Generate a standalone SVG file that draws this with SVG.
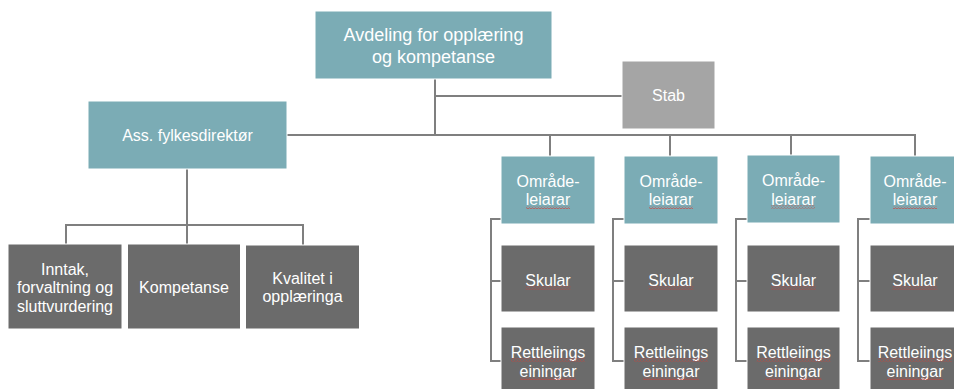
<svg xmlns="http://www.w3.org/2000/svg" width="954" height="389" viewBox="0 0 954 389">
<style>
  .teal{fill:#7BACB5;stroke:#ffffff;stroke-width:1}
  .dark{fill:#6B6B6B;stroke:#ffffff;stroke-width:1}
  .stab{fill:#A5A5A5;stroke:#ffffff;stroke-width:1}
  text{font-family:"Liberation Sans",Arial,sans-serif;font-size:16px;fill:#ffffff;text-anchor:middle}
  .big{font-size:18px}
  .conn{fill:none;stroke:#7F7F7F;stroke-width:2}
  .sq{fill:url(#squig)}
</style>
<defs>
  <pattern id="squig" patternUnits="userSpaceOnUse" width="3" height="3">
    <path d="M0 2.2 L1.5 0.8 L3 2.2" fill="none" stroke="#D0403A" stroke-width="0.8"/>
  </pattern>
</defs>
<rect width="954" height="389" fill="#ffffff"/>
<g id="connectors" class="conn">
  <path d="M435 79 V135"/>
  <path d="M435 96 H622"/>
  <path d="M287 135 H916"/>
  <path d="M550 135 V156"/>
  <path d="M670 135 V156"/>
  <path d="M791 135 V155"/>
  <path d="M915 135 V156"/>
  <path d="M187 169 V225"/>
  <path d="M66 244 V225 H303 V245"/>
  <path d="M187 225 V244"/>
  <path d="M501 219 H491 V361 H501 M491 281 H501"/>
  <path d="M624 219 H613 V361 H624 M613 281 H624"/>
  <path d="M747 219 H736 V361 H747 M736 281 H747"/>
  <path d="M870 219 H858 V361 H870 M858 281 H870"/>
</g>
<g id="avdeling">
  <rect class="teal" x="315" y="11" width="237" height="68"/>
  <text class="big" x="433.5" y="41">Avdeling for opplæring</text>
  <text class="big" x="433.5" y="63">og kompetanse</text>
</g>
<g id="stab">
  <rect class="stab" x="622" y="61" width="93" height="68"/>
  <text x="668.5" y="101">Stab</text>
</g>
<g id="ass">
  <rect class="teal" x="88" y="101" width="199" height="68"/>
  <text x="187.5" y="141">Ass. fylkesdirektør</text>
</g>
<g id="inntak">
  <rect class="dark" x="8" y="244" width="114" height="85"/>
  <text x="65" y="274.5">Inntak,</text>
  <text x="65" y="293">forvaltning og</text>
  <text x="65" y="311.5">sluttvurdering</text>
</g>
<g id="kompetanse">
  <rect class="dark" x="127.5" y="244" width="113" height="85"/>
  <text x="184" y="292.5">Kompetanse</text>
</g>
<g id="kvalitet">
  <rect class="dark" x="245.5" y="245" width="114" height="84"/>
  <text x="302.5" y="283.5">Kvalitet i</text>
  <text x="302.5" y="302">opplæringa</text>
</g>
<g id="omr1">
  <rect class="teal" x="501" y="156" width="94" height="68"/>
  <text x="548" y="186.5">Område-</text>
  <text x="548" y="205">leiarar</text>
  <rect class="sq" x="526" y="206" width="44" height="3"/>
</g>
<g id="omr2">
  <rect class="teal" x="624" y="156" width="94" height="68"/>
  <text x="671" y="186.5">Område-</text>
  <text x="671" y="205">leiarar</text>
  <rect class="sq" x="649" y="206" width="44" height="3"/>
</g>
<g id="omr3">
  <rect class="teal" x="747" y="155" width="93" height="68"/>
  <text x="793.5" y="186">Område-</text>
  <text x="793.5" y="204.5">leiarar</text>
  <rect class="sq" x="771" y="205.5" width="44" height="3"/>
</g>
<g id="omr4">
  <rect class="teal" x="870" y="156" width="94" height="68"/>
  <text x="915" y="186.5">Område-</text>
  <text x="915" y="205">leiarar</text>
  <rect class="sq" x="893" y="206" width="44" height="3"/>
</g>
<g id="skular1">
  <rect class="dark" x="501" y="245" width="94" height="67"/>
  <text x="548" y="285.5">Skular</text>
  <rect class="sq" x="525.5" y="286.5" width="45" height="3"/>
</g>
<g id="skular2">
  <rect class="dark" x="624" y="245" width="94" height="67"/>
  <text x="671" y="285.5">Skular</text>
  <rect class="sq" x="648.5" y="286.5" width="45" height="3"/>
</g>
<g id="skular3">
  <rect class="dark" x="747" y="245" width="93" height="67"/>
  <text x="793.5" y="285.5">Skular</text>
  <rect class="sq" x="771" y="286.5" width="45" height="3"/>
</g>
<g id="skular4">
  <rect class="dark" x="870" y="245" width="94" height="67"/>
  <text x="915" y="285.5">Skular</text>
  <rect class="sq" x="892.5" y="286.5" width="45" height="3"/>
</g>
<g id="rett1">
  <rect class="dark" x="501" y="327" width="94" height="70"/>
  <text x="548" y="358">Rettleiings</text>
  <text x="548" y="376.5">einingar</text>
  <rect class="sq" x="511" y="358.5" width="74" height="3"/>
  <rect class="sq" x="520" y="377" width="56" height="3"/>
</g>
<g id="rett2">
  <rect class="dark" x="624" y="327" width="94" height="70"/>
  <text x="671" y="358">Rettleiings</text>
  <text x="671" y="376.5">einingar</text>
  <rect class="sq" x="634" y="358.5" width="74" height="3"/>
  <rect class="sq" x="643" y="377" width="56" height="3"/>
</g>
<g id="rett3">
  <rect class="dark" x="747" y="327" width="93" height="70"/>
  <text x="793.5" y="358">Rettleiings</text>
  <text x="793.5" y="376.5">einingar</text>
  <rect class="sq" x="756.5" y="358.5" width="74" height="3"/>
  <rect class="sq" x="765.5" y="377" width="56" height="3"/>
</g>
<g id="rett4">
  <rect class="dark" x="870" y="327" width="94" height="70"/>
  <text x="915" y="358">Rettleiings</text>
  <text x="915" y="376.5">einingar</text>
  <rect class="sq" x="878" y="358.5" width="74" height="3"/>
  <rect class="sq" x="887" y="377" width="56" height="3"/>
</g>
</svg>
